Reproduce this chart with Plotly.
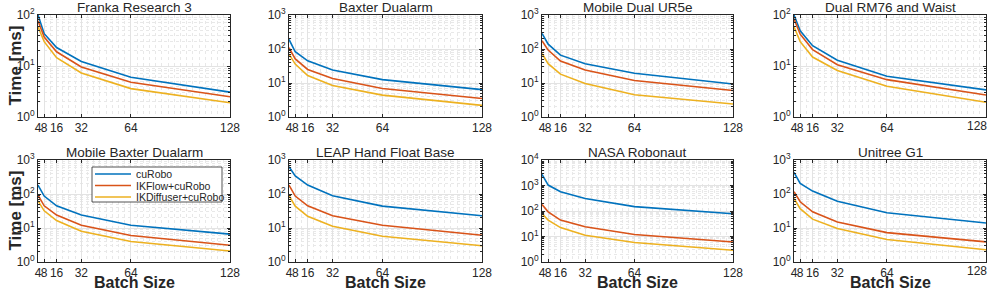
import plotly.graph_objects as go

batch_sizes = [4, 8, 16, 32, 64, 128]
robot_names = ["Franka Research 3", "Baxter Dualarm", "Mobile Dual UR5e", "Dual RM76 and Waist",
               "Mobile Baxter Dualarm", "LEAP Hand Float Base", "NASA Robonaut", "Unitree G1"]
series_names = ["cuRobo", "IKFlow+cuRobo", "IKDiffuser+cuRobo"]

franka_curobo = [100, 43, 23, 12.3, 6.0, 3.07]
franka_ikflow = [77, 37, 19, 9.6, 4.8, 2.5]
franka_ikdiff = [59, 30, 14.6, 7.3, 3.6, 1.9]

baxter_curobo = [191, 83, 45, 24, 12.6, 6.4]
baxter_ikflow = [109, 51, 25, 13.5, 6.9, 3.5]
baxter_ikdiff = [71, 36, 16.5, 8.4, 4.4, 2.2]

ur5e_curobo = [288, 139, 66, 37, 19.3, 9.3]
ur5e_ikflow = [175, 93, 44, 24, 11.9, 6.0]
ur5e_ikdiff = [74, 37, 18.2, 9.7, 4.5, 2.4]

rm76_curobo = [100, 49, 25, 13, 6.3, 3.4]
rm76_ikflow = [84, 42, 21, 10.6, 5.4, 2.7]
rm76_ikdiff = [59, 30, 15, 8.2, 4.0, 1.95]

mbaxter_curobo = [183, 87, 45, 24, 12, 6.6]
mbaxter_ikflow = [92, 45, 24, 12, 6.0, 3.1]
mbaxter_ikdiff = [63, 32, 16.6, 8.0, 4.0, 2.1]

leap_curobo = [630, 340, 183, 89, 44, 23]
leap_ikflow = [183, 87, 45, 23, 12, 6.1]
leap_ikdiff = [89, 44, 22, 11.3, 5.7, 3.0]

nasa_curobo = [2740, 1040, 570, 310, 148, 78]
nasa_ikflow = [180, 93, 44, 24, 12, 6.1]
nasa_ikdiff = [80, 44, 22.4, 11.2, 5.8, 2.9]

g1_curobo = [433, 205, 122, 61, 28, 14]
g1_ikflow = [117, 59, 30, 15, 7.3, 3.9]
g1_ikdiff = [74, 37, 18.2, 9.6, 4.6, 2.3]

robot_series = [
    (franka_curobo, franka_ikflow, franka_ikdiff),
    (baxter_curobo, baxter_ikflow, baxter_ikdiff),
    (ur5e_curobo, ur5e_ikflow, ur5e_ikdiff),
    (rm76_curobo, rm76_ikflow, rm76_ikdiff),
    (mbaxter_curobo, mbaxter_ikflow, mbaxter_ikdiff),
    (leap_curobo, leap_ikflow, leap_ikdiff),
    (nasa_curobo, nasa_ikflow, nasa_ikdiff),
    (g1_curobo, g1_ikflow, g1_ikdiff),
]
y_max_exp = [2, 3, 3, 2, 3, 3, 4, 3]
x_tick_vals = [4, 8, 16, 32, 64, 128]
x_tick_text = ["4", "8", "16", "32", "64", "128"]

colors = ["#0072BD", "#D95319", "#EDB120"]
W, H = 996, 290
col_px = [(38, 230), (289, 482), (542, 733), (794, 986)]
row_px = [(15, 117), (160, 262)]
axis_color = "#262626"
font_fam = "Liberation Sans, Arial, Helvetica, sans-serif"

fig = go.Figure()
for i in range(8):
    r, c = divmod(i, 4)
    n = i + 1
    xa = "x" if n == 1 else f"x{n}"
    ya = "y" if n == 1 else f"y{n}"
    for s in range(3):
        fig.add_trace(go.Scatter(
            x=batch_sizes, y=robot_series[i][s], mode="lines",
            line=dict(color=colors[s], width=1.6),
            name=series_names[s], showlegend=False,
            xaxis=xa, yaxis=ya))
    x0, x1 = col_px[c]
    y0, y1 = row_px[r]
    e = y_max_exp[i]
    yt = [10 ** k for k in range(e + 1)]
    ytt = [f"10<sup>{k}</sup>" for k in range(e + 1)]
    ymin = [m * 10 ** k for k in range(e) for m in range(2, 10)]
    xkey = "xaxis" if n == 1 else f"xaxis{n}"
    ykey = "yaxis" if n == 1 else f"yaxis{n}"
    # the rightmost column's last label sits at the page edge: draw it as an annotation
    last_col = (c == 3)
    xtt = x_tick_text[:-1] + [""] if last_col else x_tick_text
    fig.update_layout(**{
        xkey: dict(domain=[x0 / W, x1 / W], anchor=ya, range=[4, 128], automargin=False,
                   tickmode="array", tickvals=x_tick_vals, ticktext=xtt,
                   ticklabeloverflow="allow",
                   tickangle=0, ticks="inside", ticklen=3, tickcolor=axis_color,
                   showline=True, linecolor=axis_color, linewidth=0.8, mirror="ticks",
                   showgrid=True, gridcolor="#e3e3e3", gridwidth=1,
                   minor=dict(tickmode="array", tickvals=list(range(4, 128, 4)),
                              showgrid=True, gridcolor="#e8e8e8", griddash="dot", ticks=""),
                   tickfont=dict(size=12, color=axis_color, family=font_fam),
                   zeroline=False, fixedrange=True),
        ykey: dict(domain=[1 - y1 / H, 1 - y0 / H], anchor=xa, type="log", range=[0, e],
                   automargin=False, ticklabeloverflow="allow",
                   tickmode="array", tickvals=yt, ticktext=ytt,
                   ticks="inside", ticklen=3, tickcolor=axis_color,
                   showline=True, linecolor=axis_color, linewidth=0.8, mirror="ticks",
                   showgrid=True, gridcolor="#e3e3e3", gridwidth=1,
                   minor=dict(tickmode="array", tickvals=ymin, ticks="inside", ticklen=2,
                              tickcolor=axis_color,
                              showgrid=True, gridcolor="#e8e8e8", griddash="dot"),
                   tickfont=dict(size=12, color=axis_color, family=font_fam),
                   zeroline=False, fixedrange=True),
    })
    if last_col:
        fig.add_annotation(text=x_tick_text[-1], x=x_tick_vals[-1], xref=xa,
                           y=1 - y1 / H, yref="paper", xanchor="right", yanchor="top",
                           xshift=2, yshift=-1, showarrow=False, borderpad=0,
                           font=dict(size=12, color=axis_color, family=font_fam))
    fig.add_annotation(text=robot_names[i], x=(x0 + x1) / 2 / W, y=1 - (y0 - 7.5) / H,
                       xref="paper", yref="paper", xanchor="center", yanchor="middle",
                       showarrow=False, borderpad=0,
                       font=dict(size=13.5, color=axis_color, family=font_fam))
    if r == 1:
        fig.add_annotation(text="<b>Batch Size</b>", x=(x0 + x1) / 2 / W, y=1 - 282.5 / H,
                           xref="paper", yref="paper", xanchor="center", yanchor="middle",
                           showarrow=False, borderpad=0,
                           font=dict(size=16, color=axis_color, family=font_fam))
    if c == 0:
        fig.add_annotation(text="<b>Time [ms]</b>", x=3 / W, y=1 - (y0 + y1) / 2 / H,
                           xref="paper", yref="paper", xanchor="left", yanchor="middle",
                           textangle=-90, showarrow=False,
                           font=dict(size=17, color=axis_color, family=font_fam))

# legend (drawn in the Mobile Baxter Dualarm panel)
leg_x0, leg_x1, leg_y0, leg_y1 = 92, 222, 167, 202
fig.add_shape(type="rect", xref="paper", yref="paper",
              x0=leg_x0 / W, x1=leg_x1 / W, y0=1 - leg_y1 / H, y1=1 - leg_y0 / H,
              fillcolor="white", line=dict(color=axis_color, width=0.8), layer="above")
for s in range(3):
    yy = 174 + s * 11.5
    fig.add_shape(type="line", xref="paper", yref="paper",
                  x0=95 / W, x1=131 / W, y0=1 - yy / H, y1=1 - yy / H,
                  line=dict(color=colors[s], width=1.6), layer="above")
    fig.add_annotation(text=series_names[s], x=134 / W, y=1 - yy / H,
                       xref="paper", yref="paper", xanchor="left", yanchor="middle",
                       showarrow=False, font=dict(size=10.5, color=axis_color, family=font_fam))

fig.update_layout(
    width=W, height=H, margin=dict(l=0, r=0, t=0, b=0),
    paper_bgcolor="white", plot_bgcolor="white",
    font=dict(family=font_fam, color=axis_color),
    showlegend=False,
)
fig.write_html("out.html", config={"displayModeBar": False},
               post_script="document.body.style.margin='0';document.body.style.overflow='hidden';")
